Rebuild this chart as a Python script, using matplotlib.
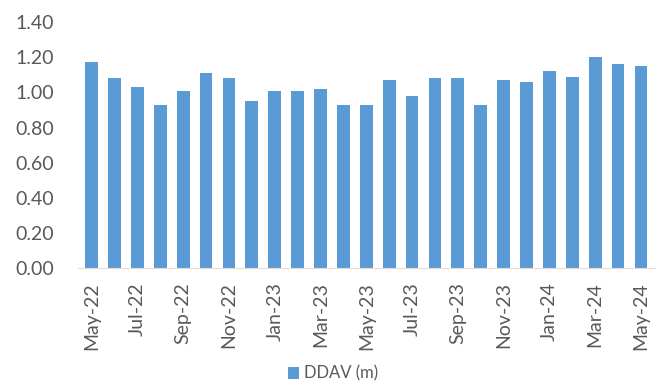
import matplotlib
matplotlib.use("Agg")
import matplotlib.pyplot as plt
import numpy as np

plt.rcParams["font.family"] = ["Lato", "DejaVu Sans"]

# 月份與 DDAV（百萬）
months = ["May-22", "Jun-22", "Jul-22", "Aug-22", "Sep-22", "Oct-22", "Nov-22",
          "Dec-22", "Jan-23", "Feb-23", "Mar-23", "Apr-23", "May-23", "Jun-23",
          "Jul-23", "Aug-23", "Sep-23", "Oct-23", "Nov-23", "Dec-23", "Jan-24",
          "Feb-24", "Mar-24", "Apr-24", "May-24"]
ddav = [1.17, 1.08, 1.03, 0.93, 1.01, 1.11, 1.08, 0.95, 1.01, 1.01, 1.02, 0.93,
        0.93, 1.07, 0.98, 1.08, 1.08, 0.93, 1.07, 1.06, 1.12, 1.09, 1.20, 1.16,
        1.15]
yticks = [0.0, 0.2, 0.4, 0.6, 0.8, 1.0, 1.2, 1.4]

fig = plt.figure(figsize=(6.66, 3.87), dpi=100)
ax = fig.add_axes([0.117, 0.307, 0.866, 0.636])

x = np.arange(len(months))
ax.bar(x, ddav, width=0.56, color="#5B9BD5", label="DDAV (m)")

ax.set_xlim(-0.6, len(months) - 0.4)
ax.set_ylim(0, 1.4)
ax.set_yticks(yticks)
ax.set_yticklabels([f"{v:.2f}" for v in yticks])
ax.set_xticks(x[::2])
ax.set_xticklabels(months[::2], rotation=90)

for s in ["top", "right", "left"]:
    ax.spines[s].set_visible(False)
ax.spines["bottom"].set_color("#EADCCB")
ax.tick_params(axis="both", length=0, labelsize=14, colors="#595959")
ax.tick_params(axis="y", pad=17)
ax.tick_params(axis="x", pad=10)

fig.legend(loc="lower center", bbox_to_anchor=(0.5, -0.025), frameon=False,
           fontsize=12, handlelength=0.7, handleheight=0.7, handletextpad=0.3,
           labelcolor="#595959")

fig.savefig("out.png", dpi=100)
